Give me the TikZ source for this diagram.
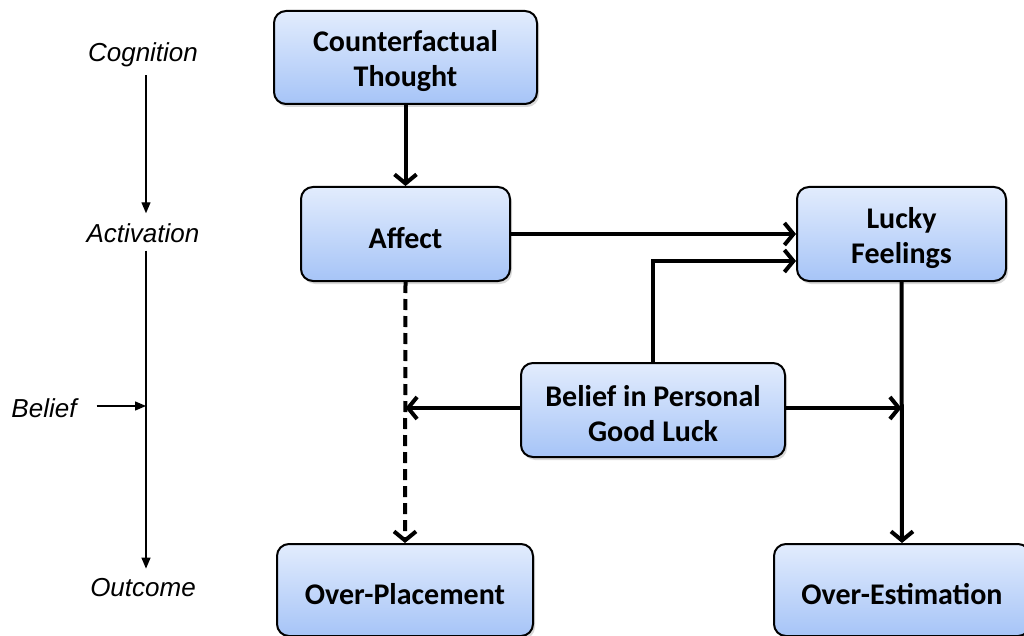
\documentclass[tikz,border=0pt]{standalone}
\usepackage{fontspec}
\setmainfont{Carlito}
\newfontfamily\helv{Liberation Sans}
\usetikzlibrary{arrows.meta,shadows}
\definecolor{boxtop}{RGB}{226,236,253}
\definecolor{boxbot}{RGB}{166,196,247}
\begin{document}
\begin{tikzpicture}[x=1pt,y=-1pt,
 box/.style={draw=black, line width=2pt, rounded corners=12pt, top color=boxtop, bottom color=boxbot,
   inner sep=0pt, drop shadow={shadow xshift=2pt, shadow yshift=-3pt, opacity=0.3}},
 txt/.style={align=center, font=\bfseries\fontsize{30}{35}\selectfont, inner sep=0pt, yshift=-4pt},
 flow/.style={line width=4pt, -{Straight Barb[length=9pt,width=22pt]}},
 dflow/.style={flow, dash pattern=on 11pt off 6pt},
 axis/.style={line width=1.3pt, -{Triangle[length=11pt,width=9pt]}},
 lab/.style={font=\helv\itshape\fontsize{26}{30}\selectfont, inner sep=0pt}]
\useasboundingbox (0,0) rectangle (1024,636);
\node[box, minimum width=263pt, minimum height=93pt] (cf) at (405.5,57.5) {};
\node[box, minimum width=209pt, minimum height=94pt] (af) at (405.5,234) {};
\node[box, minimum width=209pt, minimum height=94pt] (lf) at (901.5,234) {};
\node[box, minimum width=264pt, minimum height=94pt] (bl) at (653,410) {};
\node[box, minimum width=256pt, minimum height=92pt] (op) at (405,590) {};
\node[box, minimum width=256pt, minimum height=92pt] (oe) at (902,590) {};
\node[txt] (cft) at (cf.center) {Counterfactual\\Thought};
\node[txt] (aft) at (af.center) {Affect};
\node[txt] (lft) at (lf.center) {Lucky\\Feelings};
\node[txt] (blt) at (bl.center) {Belief in Personal\\Good Luck};
\node[txt] (opt) at (op.center) {Over-Placement};
\node[txt] (oet) at (oe.center) {Over-Estimation};

\draw[flow] (cf.south) -- (af.north);
\draw[flow] (af.east) -- (af.east -| lf.west);
\draw[flow] (bl.north) |- ([yshift=-27pt]lf.west);
\draw[flow] (lf.south) -- (oe.north);
\draw[dflow] (af.south) -- (op.north);
\draw[flow] ([yshift=2pt]bl.west) -- ([yshift=2pt]af.south |- bl.west);
\draw[flow] ([yshift=2pt]bl.east) -- ([yshift=2pt]lf.south |- bl.east);

\node[lab] (cog) at (143,55) {Cognition};
\node[lab] (act) at (143,233) {Activation};
\node[lab] (bel) at (44,408) {Belief};
\node[lab] (out) at (143,588) {Outcome};
\coordinate (bax) at (146,406);
\draw[axis, shorten <=8pt, shorten >=10pt] (cog.south -| bax) -- (act.north -| bax);
\draw[axis, shorten <=8pt, shorten >=10pt] (act.south -| bax) -- (out.north -| bax);
\draw[axis, shorten <=20pt] (bel.east |- bax) -- (bax);
\end{tikzpicture}
\end{document}
